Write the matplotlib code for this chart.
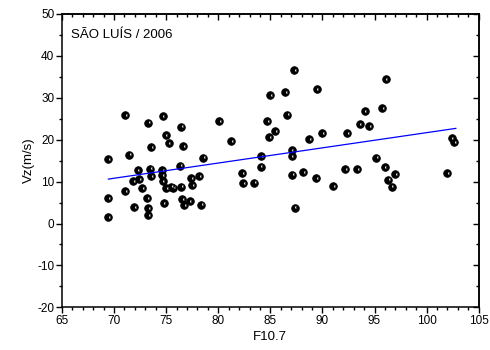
import matplotlib
matplotlib.use('Agg')
import matplotlib.pyplot as plt
import matplotlib.transforms as mtransforms
from matplotlib.ticker import MultipleLocator

## data
f107 = [69.44, 69.44, 69.44, 71.05, 71.05, 71.46, 71.96, 71.86, 72.25, 72.39,
        72.68, 73.25, 73.16, 73.25, 73.25, 73.47, 73.57, 73.57, 74.66, 74.64,
        74.64, 74.66, 74.76, 74.95, 75.24, 74.98, 75.46, 75.68, 76.35, 76.45,
        76.47, 76.55, 76.64, 76.74, 77.24, 77.38, 77.48, 78.18, 78.34, 78.56,
        80.07, 81.25, 82.27, 82.37, 83.47, 84.07, 84.10, 84.67, 84.87, 84.96,
        85.47, 86.40, 86.64, 87.04, 87.04, 87.07, 87.27, 87.34, 88.18, 88.75,
        89.38, 89.45, 89.95, 91.06, 92.16, 92.37, 93.36, 93.57, 94.06, 94.46,
        95.16, 95.74, 95.97, 96.07, 96.29, 96.64, 96.96, 101.95, 102.40, 102.65]
vz = [15.35, 5.97, 1.58, 25.85, 7.78, 16.42, 3.89, 10.10, 12.72, 10.57,
      8.42, 24.10, 5.97, 3.72, 1.93, 13.08, 18.28, 11.29, 25.68, 12.77,
      11.60, 10.10, 4.84, 21.15, 19.24, 8.42, 8.83, 8.59, 13.84, 23.10,
      8.83, 5.85, 18.45, 4.44, 5.32, 10.74, 9.14, 11.24, 4.53, 15.75,
      24.49, 19.64, 12.00, 9.55, 9.74, 13.56, 16.06, 24.49, 20.53, 30.62,
      22.03, 31.38, 26.01, 17.49, 16.06, 11.65, 36.52, 3.77, 12.24, 20.19,
      10.88, 32.05, 21.48, 8.85, 12.89, 21.48, 12.89, 23.70, 26.87, 23.22,
      15.70, 27.57, 13.44, 34.49, 10.50, 8.78, 11.81, 12.08, 20.31, 19.47]

# linear fit as drawn
fit_x = [69.45, 102.8]
fit_y = [10.6, 22.7]

plt.rcParams['font.family'] = ['Liberation Sans', 'DejaVu Sans']
plt.rcParams['axes.unicode_minus'] = False

fig = plt.figure(figsize=(4.9, 3.5), dpi=100)
ax = fig.add_axes([0.1265, 0.122, 0.8505, 0.838])

ax.plot(f107, vz, linestyle='none', marker='o', markersize=5.4,
        markerfacecolor='black', markeredgecolor='black', markeredgewidth=0.7)
# small white highlight, shifted a bit to the right
shift = mtransforms.offset_copy(ax.transData, fig=fig, x=1.2, y=0.2, units='points')
ax.plot(f107, vz, linestyle='none', marker='o', markersize=2.0,
        fillstyle='left', markerfacecolor='white', markerfacecoloralt='black',
        markeredgewidth=0, transform=shift)
ax.plot(fit_x, fit_y, color='blue', linewidth=0.9)

ax.set_xlim(65, 105)
ax.set_ylim(-20, 50)
ax.xaxis.set_major_locator(MultipleLocator(5))
ax.xaxis.set_minor_locator(MultipleLocator(1))
ax.yaxis.set_major_locator(MultipleLocator(10))
ax.yaxis.set_minor_locator(MultipleLocator(5))
ax.tick_params(which='both', direction='out', width=1.0, labelsize=8.5, pad=1.5)
ax.tick_params(which='major', length=4)
ax.tick_params(which='minor', length=2.5)
for s in ax.spines.values():
    s.set_linewidth(1.1)

# top and right: ticks inward, no labels
top = ax.secondary_xaxis('top')
top.xaxis.set_major_locator(MultipleLocator(5))
top.xaxis.set_minor_locator(MultipleLocator(1))
top.tick_params(which='both', direction='in', width=1.0, labeltop=False)
top.tick_params(which='major', length=4)
top.tick_params(which='minor', length=2.5)
top.spines['top'].set_linewidth(1.1)

right = ax.secondary_yaxis('right')
right.yaxis.set_major_locator(MultipleLocator(10))
right.yaxis.set_minor_locator(MultipleLocator(5))
right.tick_params(which='both', direction='in', width=1.0, labelright=False)
right.tick_params(which='major', length=4)
right.tick_params(which='minor', length=2.5)
right.spines['right'].set_linewidth(1.1)

ax.set_xlabel('F10.7', fontsize=9.5, labelpad=3)
ax.set_ylabel('Vz(m/s)', fontsize=9.5, labelpad=2)
ax.text(0.022, 0.95, 'SÃO LUÍS / 2006', transform=ax.transAxes,
        fontsize=9.5, va='top', ha='left')

plt.savefig('out.png', dpi=100)
